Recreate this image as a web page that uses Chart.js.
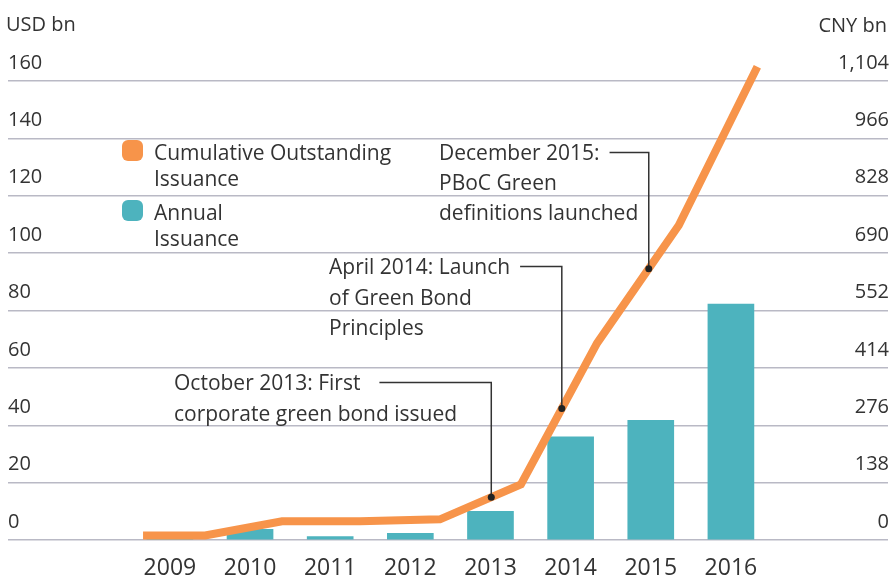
<!DOCTYPE html>
<html>
<head>
<meta charset="utf-8">
<script src="https://cdn.jsdelivr.net/npm/chart.js@4"></script>
<style>
html,body{margin:0;padding:0;background:#fff;}
#wrap{width:893px;height:577px;position:relative;}
</style>
</head>
<body>
<div id="wrap"><canvas id="c" width="893" height="577"></canvas></div>
<script>
// ---- data ----
const years = ["2009","2010","2011","2012","2013","2014","2015","2016"];
const annualIssuance = [0.8, 3.7, 1.2, 2.3, 10.0, 36.0, 41.7, 82.2];
const cumulativeX = [-0.335, 0.44, 1.40, 2.37, 3.37, 4.38, 5.33, 6.35, 7.33];
const cumulativeY = [1.6, 1.6, 6.5, 6.5, 7.2, 19.4, 68.6, 109.7, 165.0];
const usdTicks = [0, 20, 40, 60, 80, 100, 120, 140, 160];
const cnyTicks = [0, 138, 276, 414, 552, 690, 828, 966, 1104];
const seriesNames = [["Cumulative Outstanding","Issuance"],["Annual","Issuance"]];
const annotationTexts = [
  ["October 2013: First","corporate green bond issued"],
  ["April 2014: Launch","of Green Bond","Principles"],
  ["December 2015:","PBoC Green","definitions launched"]
];
const annotationX = [4.01, 4.89, 5.975];

// ---- styles ----
const ORANGE = '#F7944A';
const TEAL = '#4DB3BE';
const TEXT = '#333333';
const GRID = '#b9b9c5';
const FONT = '"Open Sans", sans-serif';

function lineYAt(x){
  for(let i=0;i<cumulativeX.length-1;i++){
    if(x>=cumulativeX[i] && x<=cumulativeX[i+1]){
      const t=(x-cumulativeX[i])/(cumulativeX[i+1]-cumulativeX[i]);
      return cumulativeY[i]+t*(cumulativeY[i+1]-cumulativeY[i]);
    }
  }
  return cumulativeY[cumulativeY.length-1];
}

const annotLayout = [
  {tx:174, base:[390,421], gap:19},
  {tx:329, base:[274,304.5,335], gap:10},
  {tx:439, base:[160,190,220], gap:10}
];

const overlay = {
  id:'overlay',
  afterDatasetsDraw(chart){
    const ctx=chart.ctx, xs=chart.scales.x, ys=chart.scales.y;
    ctx.save();
    ctx.font='20px '+FONT;
    ctx.fillStyle=TEXT;
    ctx.textBaseline='alphabetic';
    // axis titles
    ctx.textAlign='left';
    ctx.fillText('USD bn',6,30.5);
    ctx.textAlign='right';
    ctx.fillText('CNY bn',887,32);
    // legend
    ctx.font='21px '+FONT;
    ctx.textAlign='left';
    const legendCols=[ORANGE,TEAL];
    const legBase=[[159.5,185.5],[220,246]];
    const markTop=[140,200];
    legendCols.forEach((col,i)=>{
      ctx.fillStyle=col;
      ctx.beginPath();
      ctx.roundRect(122,markTop[i],21,21,6);
      ctx.fill();
      ctx.fillStyle=TEXT;
      seriesNames[i].forEach((t,j)=>ctx.fillText(t,154,legBase[i][j]));
    });
    // annotations
    annotationTexts.forEach((lines,i)=>{
      const L=annotLayout[i];
      ctx.fillStyle=TEXT;
      lines.forEach((t,j)=>ctx.fillText(t,L.tx,L.base[j]));
      const w=ctx.measureText(lines[0]).width;
      const px=xs.getPixelForValue(annotationX[i]);
      const py=ys.getPixelForValue(lineYAt(annotationX[i]));
      const ly=L.base[0]-7.5;
      ctx.strokeStyle='#333';
      ctx.lineWidth=1.5;
      ctx.beginPath();
      ctx.moveTo(L.tx+w+L.gap,ly);
      ctx.lineTo(px,ly);
      ctx.lineTo(px,py);
      ctx.stroke();
      ctx.fillStyle='#222';
      ctx.beginPath();
      ctx.arc(px,py,3.5,0,Math.PI*2);
      ctx.fill();
    });
    ctx.restore();
  }
};

new Chart(document.getElementById('c'),{
  type:'bar',
  data:{
    datasets:[
      {
        type:'line',
        label:seriesNames[0].join(' '),
        data:cumulativeX.map((x,i)=>({x:x,y:cumulativeY[i]})),
        borderColor:ORANGE,
        backgroundColor:ORANGE,
        borderWidth:8,
        pointRadius:0,
        tension:0,
        clip:false,
        borderJoinStyle:'miter',
        borderCapStyle:'butt',
        yAxisID:'y',
        order:0
      },
      {
        type:'bar',
        label:seriesNames[1].join(' '),
        data:annualIssuance.map((v,i)=>({x:i,y:v})),
        backgroundColor:TEAL,
        barThickness:46,
        yAxisID:'y',
        order:1
      }
    ]
  },
  options:{
    responsive:false,
    animation:false,
    devicePixelRatio:1,
    layout:{padding:{top:81,left:0,right:0,bottom:0}},
    plugins:{legend:{display:false},tooltip:{enabled:false}},
    scales:{
      x:{
        type:'linear',
        offset:false,
        min:-2.02,max:8.96,
        grid:{display:false},
        border:{display:false},
        afterBuildTicks(s){s.ticks=years.map((y,i)=>({value:i}));},
        afterFit(s){s.height=37;},
        ticks:{
          autoSkip:false,maxRotation:0,
          color:TEXT,font:{family:FONT,size:23},padding:7,
          callback:(v)=>years[v]
        }
      },
      y:{
        position:'left',
        min:0,max:160,
        afterBuildTicks(s){s.ticks=usdTicks.map(v=>({value:v}));},
        afterFit(s){s.width=8;},
        grid:{color:GRID,lineWidth:1.5,drawTicks:false},
        border:{display:false},
        ticks:{mirror:true,padding:0,labelOffset:-18,color:TEXT,font:{family:FONT,size:20}}
      },
      y1:{
        position:'right',
        min:0,max:1104,
        afterBuildTicks(s){s.ticks=cnyTicks.map(v=>({value:v}));},
        afterFit(s){s.width=5;},
        grid:{display:false,drawTicks:false},
        border:{display:false},
        ticks:{mirror:true,padding:1,labelOffset:-18,color:TEXT,font:{family:FONT,size:20},
          callback:(v)=>v.toLocaleString('en-US')}
      }
    }
  },
  plugins:[overlay]
});
</script>
</body>
</html>
